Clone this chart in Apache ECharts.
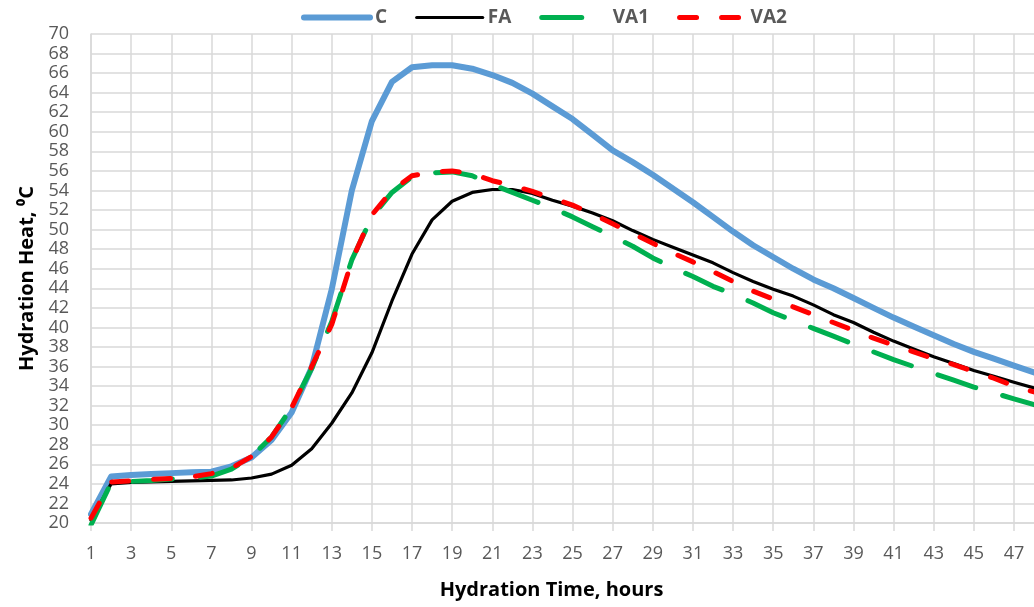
<!DOCTYPE html>
<html>
<head>
<meta charset="utf-8">
<title>Hydration Heat</title>
<script src="https://cdn.jsdelivr.net/npm/echarts@6/dist/echarts.min.js"></script>
<style>
  html, body { margin: 0; padding: 0; background: #fff; }
  #chart { width: 1034px; height: 607px; }
</style>
</head>
<body>
<div id="chart"></div>
<script>
// 横轴：水化时间（小时）
const hours = ['1','2','3','4','5','6','7','8','9','10','11','12','13','14','15','16',
  '17','18','19','20','21','22','23','24','25','26','27','28','29','30','31','32',
  '33','34','35','36','37','38','39','40','41','42','43','44','45','46','47','48']

// 各配比的水化温度 (°C)
const seriesC = [20.9, 24.75, 24.9, 25.0, 25.1, 25.2, 25.25, 25.8, 26.7, 28.5, 31.3, 35.9,
  43.9, 54.0, 61.1, 65.1, 66.6, 66.8, 66.8, 66.45, 65.8, 65.0, 63.9, 62.6,
  61.3, 59.7, 58.1, 56.9, 55.6, 54.2, 52.8, 51.3, 49.8, 48.4, 47.2, 46.0,
  44.9, 44.0, 43.0, 42.0, 41.0, 40.1, 39.2, 38.3, 37.5, 36.8, 36.1, 35.4]
const seriesFA = [20.3, 24.0, 24.15, 24.2, 24.25, 24.3, 24.35, 24.4, 24.6, 25.0, 25.9, 27.6,
  30.2, 33.3, 37.4, 42.7, 47.5, 51.0, 52.9, 53.8, 54.1, 54.1, 53.7, 53.0,
  52.4, 51.7, 50.9, 49.9, 49.0, 48.2, 47.4, 46.6, 45.6, 44.7, 43.9, 43.2,
  42.3, 41.3, 40.5, 39.5, 38.6, 37.8, 37.0, 36.3, 35.6, 35.0, 34.4, 33.8]
const seriesVA1 = [19.8, 24.1, 24.25, 24.35, 24.5, 24.6, 24.8, 25.5, 26.8, 28.8, 31.8, 35.8,
  40.6, 46.9, 51.3, 53.8, 55.4, 55.8, 55.9, 55.5, 54.6, 53.8, 53.0, 52.2,
  51.3, 50.3, 49.3, 48.3, 47.1, 46.1, 45.2, 44.2, 43.4, 42.5, 41.5, 40.7,
  39.9, 39.1, 38.3, 37.5, 36.7, 36.0, 35.3, 34.6, 33.9, 33.3, 32.7, 32.1]
const seriesVA2 = [20.5, 24.2, 24.3, 24.45, 24.55, 24.7, 25.05, 25.6, 26.8, 28.8, 31.8, 36.0,
  40.3, 46.8, 51.5, 54.0, 55.5, 55.9, 56.0, 55.7, 55.0, 54.5, 53.9, 53.2,
  52.5, 51.6, 50.6, 49.6, 48.6, 47.6, 46.7, 45.7, 44.7, 43.7, 42.9, 42.1,
  41.3, 40.5, 39.7, 38.9, 38.2, 37.5, 36.8, 36.2, 35.5, 34.8, 34.0, 33.4]

const gridColor = '#d9d9d9'
const labelColor = '#595959'
const font = 'Open Sans'

// 线型：颜色、线宽、虚线
const styleC = { width: 6, color: '#5b9bd5', cap: 'round', join: 'round' }
const styleFA = { width: 3.2, color: '#000000', cap: 'round', join: 'round' }
const styleVA1 = { width: 5, color: '#00b050', type: [40, 28], cap: 'round', join: 'round' }
const styleVA2 = { width: 5, color: '#ff0000', type: [17, 25], cap: 'round', join: 'round' }

const chart = echarts.init(document.getElementById('chart'))
const option = {
  animation: false,
  backgroundColor: '#ffffff',
  textStyle: { fontFamily: font },
  legend: {
    top: 3,
    left: 296,
    itemWidth: 66,
    itemHeight: 14,
    itemGap: 28,
    itemStyle: { opacity: 0 }, // 图例只显示线，不显示圆点
    textStyle: { color: labelColor, fontSize: 19, fontWeight: 'bold', fontFamily: font },
    data: [
      { name: 'C', lineStyle: styleC },
      { name: 'FA', lineStyle: styleFA },
      { name: 'VA1', lineStyle: styleVA1 },
      { name: 'VA2', lineStyle: styleVA2 }
    ]
  },
  grid: {
    left: 91,
    right: -9, // 原图右侧被裁掉一部分
    top: 34,
    bottom: 84
  },
  xAxis: {
    type: 'category',
    boundaryGap: false,
    data: hours,
    name: 'Hydration Time, hours',
    nameLocation: 'middle',
    nameGap: 57,
    nameTextStyle: {
      color: '#000', fontSize: 20, fontWeight: 'bold', fontFamily: font,
      padding: [0, 22, 0, 0] // 稍微往左移
    },
    axisLine: { lineStyle: { color: gridColor, width: 1.5 } },
    axisTick: { show: true, interval: 1, length: 8, lineStyle: { color: gridColor, width: 1.5 } },
    axisLabel: { interval: 1, color: labelColor, fontSize: 18, margin: 22, fontFamily: font },
    splitLine: { show: true, interval: 1, lineStyle: { color: gridColor, width: 1.5 } }
  },
  yAxis: {
    type: 'value',
    min: 20,
    max: 70,
    interval: 2,
    name: 'Hydration Heat, \u2070C',
    nameLocation: 'middle',
    nameGap: 51,
    nameTextStyle: { color: '#000', fontSize: 20, fontWeight: 'bold', fontFamily: font },
    axisLine: { show: true, lineStyle: { color: gridColor, width: 1.5 } },
    axisTick: { show: false },
    axisLabel: { color: labelColor, fontSize: 18, margin: 22, fontFamily: font },
    splitLine: { lineStyle: { color: gridColor, width: 1.5 } }
  },
  series: [
    { name: 'C', type: 'line', data: seriesC, symbol: 'none', color: styleC.color, lineStyle: styleC },
    { name: 'FA', type: 'line', data: seriesFA, symbol: 'none', color: styleFA.color, lineStyle: styleFA },
    { name: 'VA1', type: 'line', data: seriesVA1, symbol: 'none', color: styleVA1.color, lineStyle: styleVA1 },
    { name: 'VA2', type: 'line', data: seriesVA2, symbol: 'none', color: styleVA2.color, lineStyle: styleVA2 }
  ]
}
chart.setOption(option)
</script>
</body>
</html>
